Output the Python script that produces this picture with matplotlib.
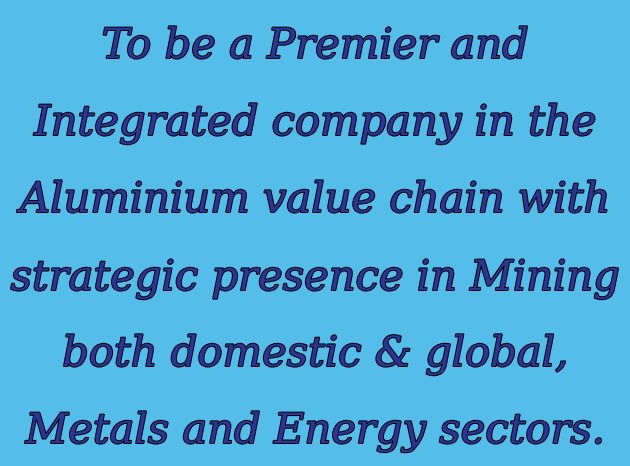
import matplotlib.pyplot as plt
import matplotlib.patheffects as pe

lines = [
    "To be a Premier and",
    "Integrated company in the",
    "Aluminium value chain with",
    "strategic presence in Mining",
    "both domestic & global,",
    "Metals and Energy sectors.",
]
baselines = [58, 135, 212, 290, 366, 443]  # pixel rows from top

W, H = 630, 466
fig = plt.figure(figsize=(W / 100, H / 100), dpi=100)
fig.patch.set_facecolor('#55bdea')
ax = fig.add_axes([0, 0, 1, 1])
ax.set_xlim(0, W)
ax.set_ylim(H, 0)
ax.axis('off')

for txt, y in zip(lines, baselines):
    ax.text(W / 2, y, txt, ha='center', va='baseline', fontsize=30,
            family='DejaVu Serif', style='italic', color='#2b3596',
            path_effects=[pe.withStroke(linewidth=1.4, foreground='black')])

fig.savefig('out.png', dpi=100, facecolor=fig.get_facecolor())
